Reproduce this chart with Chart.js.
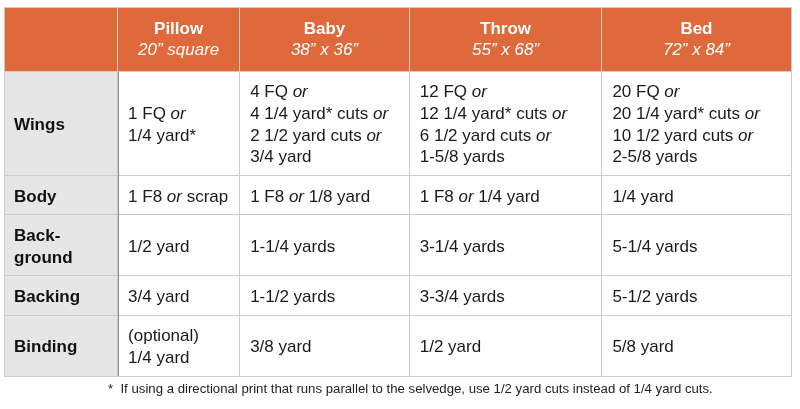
<!DOCTYPE html>
<html><head><meta charset="utf-8">
<script src="https://cdn.jsdelivr.net/npm/chart.js@4.4.1/dist/chart.umd.min.js"></script>
<style>html,body{margin:0;padding:0;background:#fff}#wrap{width:800px;height:409px;position:relative}</style>
</head><body><div id="wrap"><canvas id="c"></canvas></div>
<script>
// ---- data ----
const sizes = ["Pillow", "Baby", "Throw", "Bed"];
const dimensions = ["20” square", "38” x 36”", "55” x 68”", "72” x 84”"];
const rowLabels = [["Wings"], ["Body"], ["Back-", "ground"], ["Backing"], ["Binding"]];
const wings = [
  ["1 FQ _or_", "1/4 yard*"],
  ["4 FQ _or_", "4 1/4 yard* cuts _or_", "2 1/2 yard cuts _or_", "3/4 yard"],
  ["12 FQ _or_", "12 1/4 yard* cuts _or_", "6 1/2 yard cuts _or_", "1-5/8 yards"],
  ["20 FQ _or_", "20 1/4 yard* cuts _or_", "10 1/2 yard cuts _or_", "2-5/8 yards"]
];
const body = [["1 F8 _or_ scrap"], ["1 F8 _or_ 1/8 yard"], ["1 F8 _or_ 1/4 yard"], ["1/4 yard"]];
const background = [["1/2 yard"], ["1-1/4 yards"], ["3-1/4 yards"], ["5-1/4 yards"]];
const backing = [["3/4 yard"], ["1-1/2 yards"], ["3-3/4 yards"], ["5-1/2 yards"]];
const binding = [["(optional)", "1/4 yard"], ["3/8 yard"], ["1/2 yard"], ["5/8 yard"]];
const footnote = "*  If using a directional print that runs parallel to the selvedge, use 1/2 yard cuts instead of 1/4 yard cuts.";

// ---- layout (scale units) ----
const colWidths = [113.5, 122, 169.5, 192.5, 189];
const rowHeights = [64.2, 104, 39.5, 61, 39.5, 60.5];
const FONT = '"Liberation Sans", Arial, Helvetica, sans-serif';
const BODY_SIZE = 17;

const cum = a => a.reduce((acc, v) => { acc.push(acc[acc.length - 1] + v); return acc; }, [0]);
const colEdges = cum(colWidths);
const rowEdges = cum(rowHeights);
const tableRows = [wings, body, background, backing, binding];

function drawRich(ctx, line, x, y, size, color) {
  const parts = line.split('_');
  let cx = x;
  ctx.fillStyle = color;
  parts.forEach((p, i) => {
    ctx.font = (i % 2 ? 'italic ' : '') + size + 'px ' + FONT;
    ctx.fillText(p, cx, y);
    cx += ctx.measureText(p).width;
  });
}

const tablePlugin = {
  id: 'tablePlugin',
  beforeDraw(chart) {
    const ctx = chart.ctx, xs = chart.scales.x, ys = chart.scales.y;
    const X = v => xs.getPixelForValue(v), Y = v => ys.getPixelForValue(v);
    ctx.save();
    ctx.fillStyle = '#E0693B';
    ctx.fillRect(X(0), Y(0), X(colEdges[5]) - X(0), Y(rowEdges[1]) - Y(0));
    ctx.fillStyle = '#E6E6E6';
    ctx.fillRect(X(0), Y(rowEdges[1]), X(colEdges[1]) - X(0), Y(rowEdges[6]) - Y(rowEdges[1]));
    ctx.restore();
  },
  afterDraw(chart) {
    const ctx = chart.ctx, xs = chart.scales.x, ys = chart.scales.y;
    const X = v => xs.getPixelForValue(v), Y = v => ys.getPixelForValue(v);
    ctx.save();
    ctx.strokeStyle = '#8C8C8C';
    ctx.lineWidth = 1;
    const dx = Math.round(X(colEdges[1])) + 0.5;
    ctx.beginPath();
    ctx.moveTo(dx, Y(rowEdges[1]) + 0.5);
    ctx.lineTo(dx, Y(rowEdges[6]));
    ctx.stroke();

    ctx.textBaseline = 'middle';
    const hy = (Y(0) + Y(rowEdges[1])) / 2 + 0.5;
    ctx.textAlign = 'center';
    sizes.forEach((s, i) => {
      const cx = (X(colEdges[i + 1]) + X(colEdges[i + 2])) / 2;
      ctx.fillStyle = '#FFFFFF';
      ctx.font = 'bold 17px ' + FONT;
      ctx.fillText(s, cx, hy - 10.5);
      ctx.font = 'italic 17px ' + FONT;
      ctx.fillText(dimensions[i], cx, hy + 10.5);
    });
    ctx.textAlign = 'left';
    const LH = 21.6;
    tableRows.forEach((row, r) => {
      const cy = (Y(rowEdges[r + 1]) + Y(rowEdges[r + 2])) / 2 + 1.8;
      const lab = rowLabels[r];
      lab.forEach((t, k) => {
        ctx.fillStyle = '#111';
        ctx.font = 'bold ' + BODY_SIZE + 'px ' + FONT;
        ctx.fillText(t, X(0) + 10, cy + (k - (lab.length - 1) / 2) * 22);
      });
      row.forEach((cell, c) => {
        const x0 = X(colEdges[c + 1]) + 10.5;
        cell.forEach((line, k) => {
          drawRich(ctx, line, x0, cy + (k - (cell.length - 1) / 2) * LH, BODY_SIZE, '#1a1a1a');
        });
      });
    });
    ctx.font = '13.2px ' + FONT;
    ctx.fillStyle = '#222';
    ctx.fillText(footnote, 108, Y(rowEdges[6]) + 13);
    ctx.restore();
  }
};

new Chart(document.getElementById('c'), {
  type: 'scatter',
  data: { datasets: [{ data: [], pointRadius: 0 }] },
  plugins: [tablePlugin],
  options: {
    responsive: true,
    maintainAspectRatio: false,
    animation: false,
    events: [],
    layout: { padding: { left: 4, top: 7, right: 9, bottom: 33 } },
    plugins: { legend: { display: false }, tooltip: { enabled: false }, title: { display: false } },
    scales: {
      x: {
        type: 'linear', min: 0, max: colEdges[colEdges.length - 1],
        afterBuildTicks: s => { s.ticks = colEdges.map(v => ({ value: v })); },
        ticks: { display: false },
        grid: { color: '#CCCCCC', lineWidth: 1, drawTicks: false },
        border: { display: true, color: '#CCCCCC' }
      },
      y: {
        type: 'linear', reverse: true, min: 0, max: rowEdges[rowEdges.length - 1],
        afterBuildTicks: s => { s.ticks = rowEdges.map(v => ({ value: v })); },
        ticks: { display: false },
        grid: { color: '#CCCCCC', lineWidth: 1, drawTicks: false },
        border: { display: true, color: '#CCCCCC' }
      }
    }
  }
});
</script>
</body></html>
